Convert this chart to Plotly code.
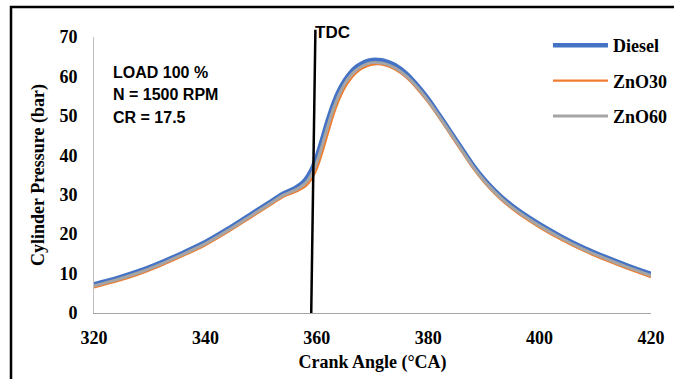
import plotly.graph_objects as go

crank_angle = [320, 324, 328, 332, 336, 340, 344, 348, 352, 354, 356, 357, 358, 359, 360,
               361, 362, 363, 364, 365, 366, 367, 368, 369, 370, 371, 372, 374, 376, 378,
               380, 382, 384, 386, 388, 390, 392, 394, 396, 400, 404, 408, 412, 416, 420]

diesel = [7.3, 8.8, 10.6, 12.8, 15.3, 18.0, 21.3, 24.9, 28.5, 30.3, 31.6, 32.5, 33.9, 36.2, 39.7,
          44.3, 49.0, 53.2, 56.5, 59.0, 60.9, 62.3, 63.2, 63.9, 64.2, 64.2, 64.0, 62.9, 60.8, 57.8,
          54.3, 50.2, 46.0, 41.8, 37.6, 34.0, 31.0, 28.4, 26.2, 22.5, 19.3, 16.5, 14.1, 11.9, 9.9]

zno30 = [6.5, 8.0, 9.8, 12.0, 14.5, 17.2, 20.5, 24.1, 27.7, 29.5, 30.6, 31.3, 32.2, 33.8, 36.6,
         40.8, 45.6, 50.3, 54.1, 57.1, 59.2, 60.8, 61.9, 62.6, 63.0, 63.1, 62.9, 61.8, 59.8, 56.9,
         53.4, 49.4, 45.2, 41.0, 36.8, 33.2, 30.2, 27.6, 25.4, 21.7, 18.5, 15.7, 13.3, 11.1, 9.1]

zno60 = [6.9, 8.4, 10.2, 12.4, 14.9, 17.6, 20.9, 24.5, 28.1, 29.9, 31.1, 31.9, 33.0, 35.0, 38.2,
         42.7, 47.5, 51.9, 55.4, 58.1, 60.1, 61.5, 62.5, 63.2, 63.5, 63.5, 63.3, 62.2, 60.2, 57.3,
         53.8, 49.8, 45.6, 41.4, 37.2, 33.6, 30.6, 28.0, 25.8, 22.1, 18.9, 16.1, 13.7, 11.5, 9.5]

tdc_angle = [359.0, 359.75]
x_ticks = [320, 340, 360, 380, 400, 420]
y_ticks = [0, 10, 20, 30, 40, 50, 60, 70]
notes = ["LOAD 100 %", "N = 1500 RPM", "CR = 17.5"]

serif = "Liberation Serif, Times New Roman, serif"
sans = "Liberation Sans, Arial, sans-serif"

fig = go.Figure()
fig.add_trace(go.Scatter(x=crank_angle, y=diesel, name="Diesel", mode="lines",
                         line=dict(color="#4472C4", width=4.5, shape="spline", smoothing=0.8),
                         legendgroup="a"))
fig.add_trace(go.Scatter(x=crank_angle, y=zno30, name="ZnO30", mode="lines",
                         line=dict(color="#ED7D31", width=2.2, shape="spline", smoothing=0.8),
                         legendgroup="b"))
fig.add_trace(go.Scatter(x=crank_angle, y=zno60, name="ZnO60", mode="lines",
                         line=dict(color="#A5A5A5", width=3, shape="spline", smoothing=0.8),
                         legendgroup="c"))

# TDC line
fig.add_shape(type="line", xref="x", yref="paper", x0=tdc_angle[0], x1=tdc_angle[1],
              y0=0, y1=1.026, line=dict(color="black", width=2.5))
fig.add_annotation(xref="x", yref="paper", x=tdc_angle[1], y=1.018, text="<b>TDC</b>",
                   showarrow=False, xanchor="left", yanchor="middle", xshift=-2,
                   font=dict(family=sans, size=17, color="black"))

# outer frame
fig.add_shape(type="rect", xref="paper", yref="paper", x0=-0.149, x1=1.3, y0=-0.5, y1=1.109,
              line=dict(color="black", width=2.5), layer="above")

for i, t in enumerate(notes):
    fig.add_annotation(xref="paper", yref="paper", x=0.031, y=0.873 - i * 0.082,
                       text="<b>" + t + "</b>", showarrow=False, xanchor="left", yanchor="middle",
                       font=dict(family=sans, size=16, color="black"))

fig.update_layout(
    width=674, height=379,
    margin=dict(l=94, r=23, t=37, b=66, autoexpand=False),
    paper_bgcolor="white", plot_bgcolor="white",
    showlegend=True,
    legend=dict(x=0.815, y=1.036, xanchor="left", yanchor="top", tracegroupgap=9,
                itemwidth=55, bgcolor="rgba(0,0,0,0)",
                font=dict(family=serif, size=18, color="black", weight="bold")),
    xaxis=dict(range=[320, 420], tickvals=x_ticks, showgrid=False, zeroline=False,
               showline=True, linecolor="#A6A6A6", linewidth=1, ticks="",
               ticklabelstandoff=8, automargin=False,
               tickfont=dict(family=serif, size=18, color="black", weight="bold"),
               title=dict(text="Crank Angle (°CA)", standoff=8,
                          font=dict(family=serif, size=18, color="black", weight="bold"))),
    yaxis=dict(range=[0, 70], tickvals=y_ticks, showgrid=False, zeroline=False,
               showline=True, linecolor="#BFBFBF", linewidth=1, ticks="",
               ticklabelstandoff=12, automargin=False,
               tickfont=dict(family=serif, size=18, color="black", weight="bold"),
               title=dict(text="Cylinder Pressure (bar)", standoff=10,
                          font=dict(family=serif, size=18, color="black", weight="bold"))),
)

fig.write_html("out.html")
